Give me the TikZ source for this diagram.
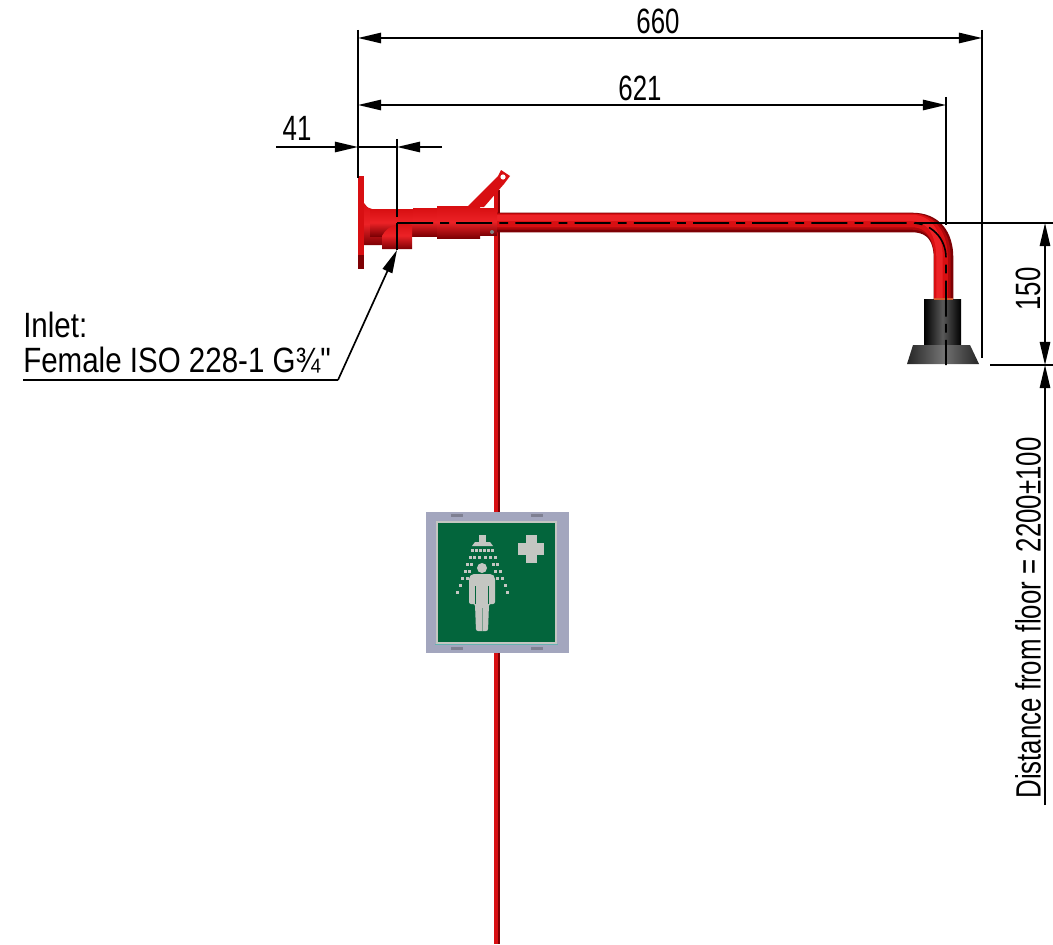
\documentclass[tikz,border=0pt]{standalone}
\usepackage{fontspec}
\usepackage{tikz}
\usetikzlibrary{arrows.meta}
\setmainfont{Liberation Sans}
\newfontfamily\dimfont[FakeStretch=0.735]{Liberation Sans}
\newfontfamily\notefont[FakeStretch=0.84]{Liberation Sans}
\definecolor{pipered}{HTML}{D80F12}
\definecolor{pipelight}{HTML}{EC2226}
\definecolor{pipemid}{HTML}{AE070A}
\definecolor{pipedark}{HTML}{7E0004}
\definecolor{signframe}{HTML}{A3A6BE}
\definecolor{signmark}{HTML}{7F8092}
\definecolor{signgreen}{HTML}{03653C}
\definecolor{signlight}{HTML}{C4C6C2}
\tikzset{
  dimline/.style={line width=.42mm,black},
  dimtip/.style={-{Triangle[length=5.8mm,width=2.6mm]},dimline},
  dimboth/.style={{Triangle[length=5.8mm,width=2.6mm]}-{Triangle[length=5.8mm,width=2.6mm]},dimline},
  centerline/.style={line width=.4mm,black,dash pattern=on 9mm off 1.8mm on 2.2mm off 1.8mm},
  dimtext/.style={font=\dimfont\fontsize{25}{28}\selectfont,inner sep=0pt,text=black},
  notetext/.style={font=\notefont\fontsize{25}{28}\selectfont,inner sep=0pt,text=black},
  casting/.style={draw=none,top color=pipered,bottom color=pipedark,middle color=pipelight},
  drop/.style={fill=signlight,draw=none},
}
\begin{document}
\begin{tikzpicture}[x=.25mm,y=-.25mm]
    \useasboundingbox (0,0) rectangle (1053,944);
    \coordinate (W) at (358,147); % Wall face
    \coordinate (I) at (397,147); % Inlet axis
    \coordinate (H) at (946,223); % Head axis
    \coordinate (F) at (1045,365); % Head face level

    % Pull rod
    \fill[pipered] (494,190) rectangle (499,944);
    \fill[pipedark] (498,190) rectangle (499.5,944);

    % Pull handle
    \fill[pipered] (467,207) -- (498,176) -- (501,170) -- (510,176) -- (504,184) -- (484,207) -- cycle;
    \fill[white] (503,177) circle(2.6);

    % Pipe and bend
    \draw[pipedark,line width=4.9mm] (490,222.5) -- (912,222.5)
        .. controls (933,222.5) and (943.5,236) .. (943.5,258) -- (943.5,300);
    \draw[pipemid,line width=4.1mm] (490,221.5) -- (912,221.5)
        .. controls (932,221.5) and (942.5,236) .. (942.5,258) -- (942.5,300);
    \draw[pipered,line width=3.4mm] (490,220.5) -- (912,220.5)
        .. controls (931,220.5) and (941,236) .. (941,258) -- (941,300);
    \draw[pipelight,line width=1.6mm] (490,218) -- (912,218)
        .. controls (929,218) and (939.5,233) .. (939.5,258) -- (939.5,300);

    % Wall bracket and collars
    \fill[pipered] (358,176) rectangle (364,269);
    \fill[pipedark] (358,255) rectangle (364,269);
    \shade[casting] (364,203) .. controls (367,207) and (369,209) .. (372,209)
        -- (382,236) -- (382,245) -- (364,245) -- cycle;
    \shade[casting] (370,209) rectangle (414,236);
    \shade[casting] (382,236) -- (382,249) -- (412,249) -- (412,225)
        .. controls (402,222) and (388,224) .. (382,236) -- cycle;
    \shade[casting] (413,208) rectangle (437,236);
    \shade[casting] (437,206) rectangle (480,238);
    \shade[casting] (480,208) rectangle (497,235);
    \fill[gray] (492,232) circle(2);

    % Shower head
    \shade[left color=black,right color=black,middle color=black!65!white]
        (924,299) rectangle (961,345);
    \shade[left color=black!85!white,right color=black!85!white,middle color=black!55!white]
        (913,345) -- (970,345) -- (979,364) -- (907,364) -- cycle;
    \fill[brown!70!red] (934,298) rectangle (953,300);

    % Safety sign
    \fill[signframe] (426,512) rectangle (569,653);
    \fill[signlight] (436,521) rectangle (557,644);
    \fill[signgreen] (438,523) rectangle (555,642);
    \draw[teal!60!white,line width=.4mm] (435,644.5) -- (558,644.5);
    \foreach \x in {457,537} {
        \fill[signmark] (\x-6,514) rectangle (\x+6,517);
        \fill[signmark] (\x-6,647) rectangle (\x+6,650);
    }
    \fill[signlight] (526,535) rectangle (537,563); % Cross
    \fill[signlight] (518,543) rectangle (544,555);
    \fill[signlight] (478.5,535) rectangle (485.5,543); % Rose
    \fill[signlight] (472,546) -- (475,542) -- (490,542) -- (493,546) -- cycle;
    \foreach \b/\s/\n in {-10/-2.5/6,-6/-2.3/4,-2/-.8/1,2/.8/1,6/2.3/4,10/2.5/6} {
        \foreach \t in {0,...,\n} {
            \fill[drop] ({482.5+\b+\s*\t-1.5},{550+7*\t-1.5}) rectangle +(3,3);
        }
    }
    \fill[signlight] (482,568) circle(5); % Figure
    \fill[signlight,rounded corners=.5mm] (469,604) -- (469,577) -- (472,574) -- (492,574)
        -- (495,577) -- (495,604) -- (489,604) -- (488,631) -- (476,631) -- (475,604) -- cycle;
    \draw[signgreen,line width=.2mm] (475.5,586) -- (475.5,604);
    \draw[signgreen,line width=.2mm] (488.5,586) -- (488.5,604);
    \draw[signgreen!40!signlight,line width=.2mm] (482,608) -- (482,631);

    % Axis lines
    \draw[centerline] (397,223) -- (912,223)
        .. controls (931,223) and (946,238) .. (946,258) -- (H |- F);
    \draw[dimline] (915,223) -- (1053,223);

    % Dimensions
    \draw[dimline] (358,30) -- (358,178);
    \draw[dimline] (982,30) -- (982,358);
    \draw[dimline] (946,97) -- (946,225);
    \draw[dimline] (397,139) -- (397,217);
    \draw[dimline] (397,223) -- (397,250);
    \draw[dimboth] (358,38) -- (982,38);
    \draw[dimboth] (358,105) -- (946,105);
    \draw[dimtip] (276,147) -- (W);
    \draw[dimtip] (442,147) -- (I);
    \draw[dimline] (W) -- (I);
    \draw[dimboth] (1045,223) -- (F);
    \draw[dimline] (990,365) -- (1053,365);
    \draw[dimtip] (1045,805) -- (F);

    % Inlet leader
    \coordinate (L) at (338,380);
    \draw[dimline] (23,380) -- (L);
    \draw[dimtip] (L) -- (397,250);

    \node[dimtext] (a) at (658,21) {660};
    \node[dimtext] (b) at (640,88) {621};
    \node[dimtext] (c) at (297,128) {41};
    \node[dimtext,rotate=90] (d) at (1028,289) {150};
    \node[dimtext,rotate=90] (e) at (1028,618) {Distance from floor = 2200±100};
    \node[notetext,anchor=base west] (f) at (23,337) {Inlet:};
    \node[notetext,anchor=base west] (g) at (23,372) {Female ISO 228-1 G¾"};
\end{tikzpicture}
\end{document}
